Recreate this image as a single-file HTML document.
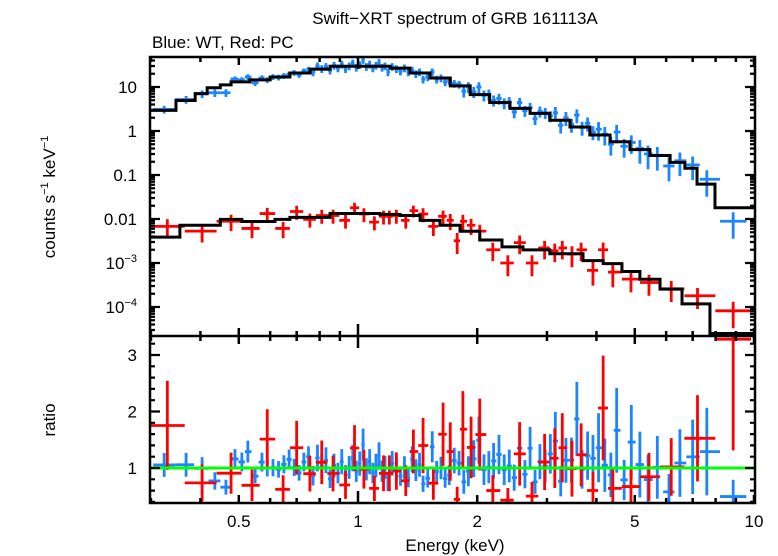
<!DOCTYPE html>
<html><head><meta charset="utf-8">
<style>
html,body{margin:0;padding:0;background:#fff;}
svg{display:block;font-family:"Liberation Sans",sans-serif;}
</style></head>
<body>
<svg id="chart" width="778" height="556" viewBox="0 0 778 556">
<text x="455" y="24" text-anchor="middle" font-size="17">Swift−XRT spectrum of GRB 161113A</text>
<text x="152" y="48" font-size="17">Blue: WT, Red: PC</text>
<text transform="translate(55,197) rotate(-90)" text-anchor="middle" font-size="17">counts s<tspan font-size="11" dy="-7">−1</tspan><tspan dy="7"> keV</tspan><tspan font-size="11" dy="-7">−1</tspan></text>
<text transform="translate(55,420) rotate(-90)" text-anchor="middle" font-size="17">ratio</text>
<text x="455" y="551" text-anchor="middle" font-size="17">Energy (keV)</text>
<g id="plot"></g>
</svg>
<script>
// ---- data ----
const modelBlueEdges=[0.298,0.347,0.388,0.416,0.449,0.478,0.533,0.600,0.673,0.757,0.850,1.205,1.353,1.52,1.71,1.92,2.15,2.42,2.72,3.05,3.43,3.85,4.33,4.86,5.46,6.14,6.69,7.18,7.97,10.06];
const modelBlueVals=[2.94,4.92,7.05,9.6,11.2,13.1,14.5,16.9,20.8,25.5,29.7,26.8,20.8,16.0,10.6,6.7,4.44,3.26,2.52,1.76,1.23,0.81,0.57,0.377,0.277,0.193,0.142,0.062,0.018];
const modelRedEdges=[0.298,0.355,0.449,0.509,0.617,0.673,0.850,1.136,1.277,1.435,1.61,1.81,2.03,2.31,2.61,3.05,3.70,4.16,4.64,5.15,5.79,6.58,7.74,10.06];
const modelRedVals=[0.00388,0.0072,0.0098,0.0088,0.0098,0.0109,0.0133,0.0127,0.0120,0.0093,0.0072,0.00528,0.00333,0.00232,0.00199,0.00162,0.00113,0.00097,0.00064,0.000426,0.000255,0.000118,0.000025];
const blueE=[0.324,0.368,0.404,0.435,0.464,0.489,0.509,0.527,0.55,0.572,0.59,0.61,0.63,0.65,0.67,0.69,0.71,0.73,0.75,0.77,0.79,0.81,0.83,0.85,0.87,0.89,0.91,0.93,0.95,0.97,0.99,1.01,1.03,1.05,1.07,1.09,1.11,1.13,1.15,1.17,1.19,1.22,1.25,1.28,1.31,1.34,1.37,1.40,1.43,1.46,1.50,1.54,1.58,1.62,1.66,1.70,1.75,1.80,1.85,1.90,1.96,2.02,2.08,2.14,2.20,2.27,2.34,2.41,2.48,2.56,2.64,2.72,2.80,2.88,2.97,3.06,3.15,3.25,3.35,3.46,3.57,3.68,3.80,3.92,4.05,4.20,4.35,4.50,4.70,4.90,5.15,5.40,5.70,6.10,6.50,7.00,7.60,8.86];
const blueV=[3.1,5.2,7.0,7.4,7.4,15.2,14.5,16.9,12.4,16.0,14.5,17,16.5,18,19.5,21,19,23,25,22,30,26,29,24,31,27,33,26,30,35,28,32,42,29,33,27,31,36,28,30,22,29,26,23,27,22,24,20,22,15,17,22,15,16,13,14,12,11.5,8,10,7.8,10,6.5,6.8,5.0,5.5,4.3,4.6,2.7,4.4,2.9,3.4,1.9,2.8,2.6,2.2,2.6,1.35,2.0,1.4,2.3,1.2,1.5,0.95,1.1,0.85,0.5,0.95,0.45,0.55,0.40,0.30,0.28,0.16,0.21,0.17,0.08,0.0089];
const blueErr=[0.2,0.2,0.2,0.2,0.2,0.15,0.15,0.15,0.15,0.15,0.15,0.15,0.15,0.15,0.15,0.15,0.15,0.15,0.15,0.2,0.2,0.2,0.2,0.2,0.2,0.2,0.2,0.2,0.2,0.2,0.2,0.2,0.2,0.2,0.2,0.2,0.2,0.2,0.2,0.2,0.2,0.2,0.2,0.2,0.2,0.2,0.2,0.2,0.2,0.2,0.2,0.2,0.2,0.2,0.2,0.2,0.2,0.2,0.28,0.28,0.28,0.28,0.28,0.28,0.28,0.28,0.28,0.28,0.28,0.28,0.28,0.28,0.28,0.28,0.28,0.28,0.35,0.35,0.35,0.35,0.35,0.35,0.35,0.35,0.45,0.45,0.45,0.45,0.45,0.45,0.55,0.55,0.55,0.55,0.55,0.55,0.6,0.6];
const redE=[0.33,0.404,0.478,0.54,0.59,0.647,0.70,0.756,0.81,0.865,0.93,0.98,1.035,1.10,1.16,1.20,1.25,1.32,1.38,1.46,1.55,1.64,1.71,1.78,1.84,1.93,2.03,2.19,2.39,2.56,2.75,2.96,3.14,3.28,3.47,3.66,3.92,4.16,4.4,4.89,5.43,6.18,7.2,8.86];
const redV=[0.0068,0.0053,0.0089,0.0061,0.0133,0.0061,0.0148,0.0098,0.012,0.012,0.0093,0.018,0.013,0.0085,0.0115,0.0115,0.012,0.0093,0.0155,0.013,0.0068,0.0115,0.0093,0.0032,0.0089,0.0072,0.0053,0.0020,0.0010,0.0029,0.0010,0.0022,0.0019,0.0022,0.0016,0.0020,0.00068,0.0020,0.00062,0.00043,0.00036,0.00026,0.00018,0.000082];
const redErr=[0.45,0.45,0.4,0.4,0.35,0.4,0.35,0.35,0.35,0.35,0.35,0.3,0.35,0.35,0.35,0.35,0.35,0.35,0.3,0.35,0.4,0.35,0.4,0.5,0.4,0.4,0.4,0.45,0.5,0.45,0.5,0.45,0.45,0.45,0.5,0.45,0.55,0.45,0.55,0.5,0.5,0.5,0.5,0.6];
const xTicksMajor=[0.5,1,2,5,10];
const xTickLabels=["0.5","1","2","5","10"];
const xTicksMinor=[0.3,0.4,0.6,0.7,0.8,0.9,3,4,6,7,8,9];
const yTopDecades=[-4,-3,-2,-1,0,1];
const yTopLabels=["10−4","10−3","0.01","0.1","1","10"];
const ratioTicks=[1,2,3];

// ---- geometry ----
const L=150,R=755,T=57,M=336,B=503;
const NS="http://www.w3.org/2000/svg";
const g=document.getElementById('plot');
function xs(e){return 358+396*Math.log10(e);}
function yt(v){return 131-44*Math.log10(v);}
function yr(r){return 468-56.5*(r-1);}
function el(tag,at,parent){const n=document.createElementNS(NS,tag);for(const k in at)n.setAttribute(k,at[k]);(parent||g).appendChild(n);return n;}
function modelAt(edges,vals,e){for(let i=0;i<vals.length;i++){if(e>=edges[i]&&e<edges[i+1])return vals[i];}return vals[vals.length-1];}
function edgesOf(E,i){const lo=i>0?Math.sqrt(E[i]*E[i-1]):E[i]*E[i]/Math.sqrt(E[i]*E[i+1]);const hi=i<E.length-1?Math.sqrt(E[i]*E[i+1]):E[i]*E[i]/Math.sqrt(E[i]*E[i-1]);return [lo,hi];}
const clipT=el('clipPath',{id:'ct'});el('rect',{x:L,y:T,width:R-L,height:M-T},clipT);
const clipB=el('clipPath',{id:'cb'});el('rect',{x:L,y:M,width:R-L,height:B-M},clipB);
const gt=el('g',{'clip-path':'url(#ct)'});


const gb=el('g',{'clip-path':'url(#cb)'});



function crosses(E,V,Er,color,name){
  for(let i=0;i<E.length;i++){
    const [lo,hi]=edgesOf(E,i);const e=Er[i]||0.3;
    const x=xs(E[i]),y=yt(V[i]);
    const ylo=yt(Math.max(V[i]*(1-e),1e-9)),yhi=yt(V[i]*(1+e));
    const p=el('path',{d:`M${xs(lo)},${y}H${xs(hi)}M${x},${yhi}V${ylo}`,stroke:color,'stroke-width':2.8,fill:'none'},gt);
    
    
  }
}
function ratios(E,V,Er,edges,vals,color,name){
  for(let i=0;i<E.length;i++){
    const [lo,hi]=edgesOf(E,i);const e=Er[i]||0.3;
    const m=modelAt(edges,vals,E[i]);const r=V[i]/m;
    const x=xs(E[i]),y=yr(r);
    const p=el('path',{d:`M${xs(lo)},${y}H${xs(hi)}M${x},${yr(r*(1+e))}V${yr(r*(1-e))}`,stroke:color,'stroke-width':2.8,fill:'none'},gb);
    
    
  }
}
function step(edges,vals,name){
  let d=`M${xs(edges[0])},${yt(vals[0])}`;
  for(let i=0;i<vals.length;i++){d+=`V${yt(vals[i])}H${xs(edges[i+1])}`;}
  const p=el('path',{d:d,stroke:'#000','stroke-width':3,fill:'none'},gt);
  
  
}
crosses(blueE,blueV,blueErr,'#1a85ff','wt');
crosses(redE,redV,redErr,'#ff0000','pc');
step(modelBlueEdges,modelBlueVals,'wt-model-line');
step(modelRedEdges,modelRedVals,'pc-model-line');
ratios(blueE,blueV,blueErr,modelBlueEdges,modelBlueVals,'#1a85ff','wt');
ratios(redE,redV,redErr,modelRedEdges,modelRedVals,'#ff0000','pc');
const gl=el('line',{x1:L,x2:R,y1:yr(1),y2:yr(1),stroke:'#00ff00','stroke-width':3},gb);



const fr=el('path',{d:`M${L},${T}H${R}V${B}H${L}ZM${L},${M}H${R}`,stroke:'#000','stroke-width':2.5,fill:'none'});



function xtick(e,len){
  const x=xs(e);
  const t=el('path',{d:`M${x},${T}v${len}M${x},${M}v${-len}M${x},${M}v${len}M${x},${B}v${-len}`,stroke:'#000','stroke-width':2.5});
  
  
}
xTicksMajor.forEach((e,i)=>{xtick(e,e===1?12:8);
  const t=el('text',{x:xs(e),y:527,'text-anchor':'middle','font-size':17});t.textContent=xTickLabels[i];
  
  });
xTicksMinor.forEach(e=>xtick(e,5));

yTopDecades.forEach((d,i)=>{
  for(let k=1;k<10;k++){
    const v=k*Math.pow(10,d);const y=yt(v);
    if(y<T||y>M)continue;const len=k===1?10:5;
    const t=el('path',{d:`M${L},${y}h${len}M${R},${y}h${-len}`,stroke:'#000','stroke-width':2.2});
    
    
  }
  const y=yt(Math.pow(10,d))+6;
  const t=el('text',{x:137,y:y,'text-anchor':'end','font-size':17});
  const lab=yTopLabels[i];
  if(lab.startsWith('10−')){t.textContent='10';const s=el('tspan',{'font-size':11,dy:-7},t);s.textContent=lab.slice(2);}
  else t.textContent=lab;
  
  
});
for(let k=2;k<10;k++){const y=yt(k*1e-5);if(y<M&&y>T){const t=el('path',{d:`M${L},${y}h5M${R},${y}h-5`,stroke:'#000','stroke-width':2.2});}}

for(let r=0.4;r<=3.35;r+=0.2){
  const y=yr(r);const major=Math.abs(r-Math.round(r))<0.01;const len=major?10:5;
  const t=el('path',{d:`M${L},${y}h${len}M${R},${y}h${-len}`,stroke:'#000','stroke-width':2.2});
  
  
}
ratioTicks.forEach(r=>{const t=el('text',{x:137,y:yr(r)+6,'text-anchor':'end','font-size':17});t.textContent=String(r);
  
  });
</script>
</body></html>
